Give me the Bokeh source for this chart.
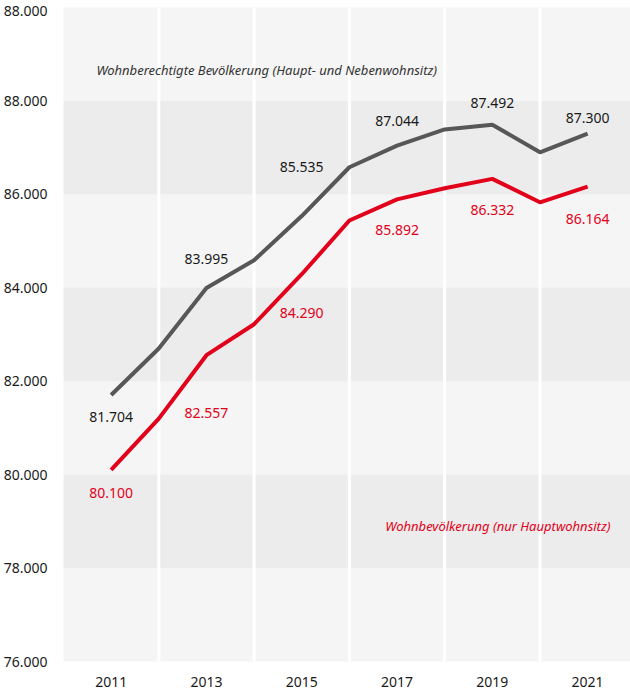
from bokeh.plotting import figure
from bokeh.models import FixedTicker, BoxAnnotation, Span, Label, ColumnDataSource
from bokeh.core.properties import value
from bokeh.embed import file_html
from bokeh.resources import INLINE

# ---- data ----
years = [2011, 2012, 2013, 2014, 2015, 2016, 2017, 2018, 2019, 2020, 2021]
wohnberechtigte = [81.704, 82.70, 83.995, 84.59, 85.535, 86.58, 87.044, 87.39, 87.492, 86.90, 87.300]
wohnbevoelkerung = [80.100, 81.20, 82.557, 83.22, 84.290, 85.44, 85.892, 86.13, 86.332, 85.83, 86.164]

label_years = [2011, 2013, 2015, 2017, 2019, 2021]
x_ticks = [2011, 2013, 2015, 2017, 2019, 2021]
y_ticks = [76, 78, 80, 82, 84, 86, 88, 89.92]
y_tick_labels = ["76.000", "78.000", "80.000", "82.000", "84.000", "86.000", "88.000", "88.000"]
band_lows = [78, 82, 86]
divider_years = [2012, 2014, 2016, 2018, 2020]

series_name_1 = "Wohnberechtigte Bevölkerung (Haupt- und Nebenwohnsitz)"
series_name_2 = "Wohnbevölkerung (nur Hauptwohnsitz)"

# label pixel offsets (style, positive = down)
gray_dy = [22, -29, -49, -25, -22, -16]
red_dy = [23, 58, 39, 31, 31, 32]

GRAY = "#575757"
RED = "#e2001a"
FONT = "Noto Sans"

p = figure(width=630, height=691, x_range=(2010, 2021.9), y_range=(76, 90),
           output_backend="svg", toolbar_location=None,
           min_border_top=7, min_border_right=0, min_border_left=62, min_border_bottom=30)
p.background_fill_color = "#f5f5f5"
p.border_fill_color = "white"
p.outline_line_color = None
p.grid.visible = False

for lo in band_lows:
    p.add_layout(BoxAnnotation(bottom=lo, top=lo + 2, fill_color="#ececec", fill_alpha=1,
                               line_color=None, level="underlay"))
for xv in divider_years:
    p.add_layout(Span(location=xv, dimension="height", line_color="white", line_width=3,
                      level="underlay"))

p.line(years, wohnberechtigte, line_color=GRAY, line_width=4)
p.line(years, wohnbevoelkerung, line_color=RED, line_width=4)

def label_source(vals, dys):
    ys = [vals[years.index(y)] for y in label_years]
    return ColumnDataSource(dict(x=label_years, y=ys, text=[f"{v:.3f}" for v in ys], dy=dys))

p.text(x="x", y="y", text="text", y_offset="dy", source=label_source(wohnberechtigte, gray_dy),
       text_align="center", text_baseline="middle", text_font=value(FONT),
       text_font_size="14px", text_color="#1a1a1a")
p.text(x="x", y="y", text="text", y_offset="dy", source=label_source(wohnbevoelkerung, red_dy),
       text_align="center", text_baseline="middle", text_font=value(FONT),
       text_font_size="14px", text_color=RED)

p.add_layout(Label(x=2010.69, y=88.66, text=series_name_1, text_font=FONT, text_font_style="italic",
                   text_font_size="13px", text_color="#333333", text_align="left",
                   text_baseline="middle"))
p.add_layout(Label(x=2021.48, y=78.89, text=series_name_2, text_font=FONT, text_font_style="italic",
                   text_font_size="13px", text_color=RED, text_align="right",
                   text_baseline="middle"))

p.xaxis.ticker = FixedTicker(ticks=x_ticks)
p.xaxis.major_label_overrides = {t: str(t) for t in x_ticks}
p.yaxis.ticker = FixedTicker(ticks=y_ticks)
p.yaxis.major_label_overrides = {t: l for t, l in zip(y_ticks, y_tick_labels)}
for ax in (p.xaxis[0], p.yaxis[0]):
    ax.axis_line_color = None
    ax.major_tick_line_color = None
    ax.minor_tick_line_color = None
    ax.major_label_text_font = FONT
    ax.major_label_text_font_size = "14px"
    ax.major_label_text_color = "#1a1a1a"
p.xaxis.major_label_standoff = 9
p.yaxis.major_label_standoff = 10

open("out.html", "w").write(file_html(p, INLINE))
